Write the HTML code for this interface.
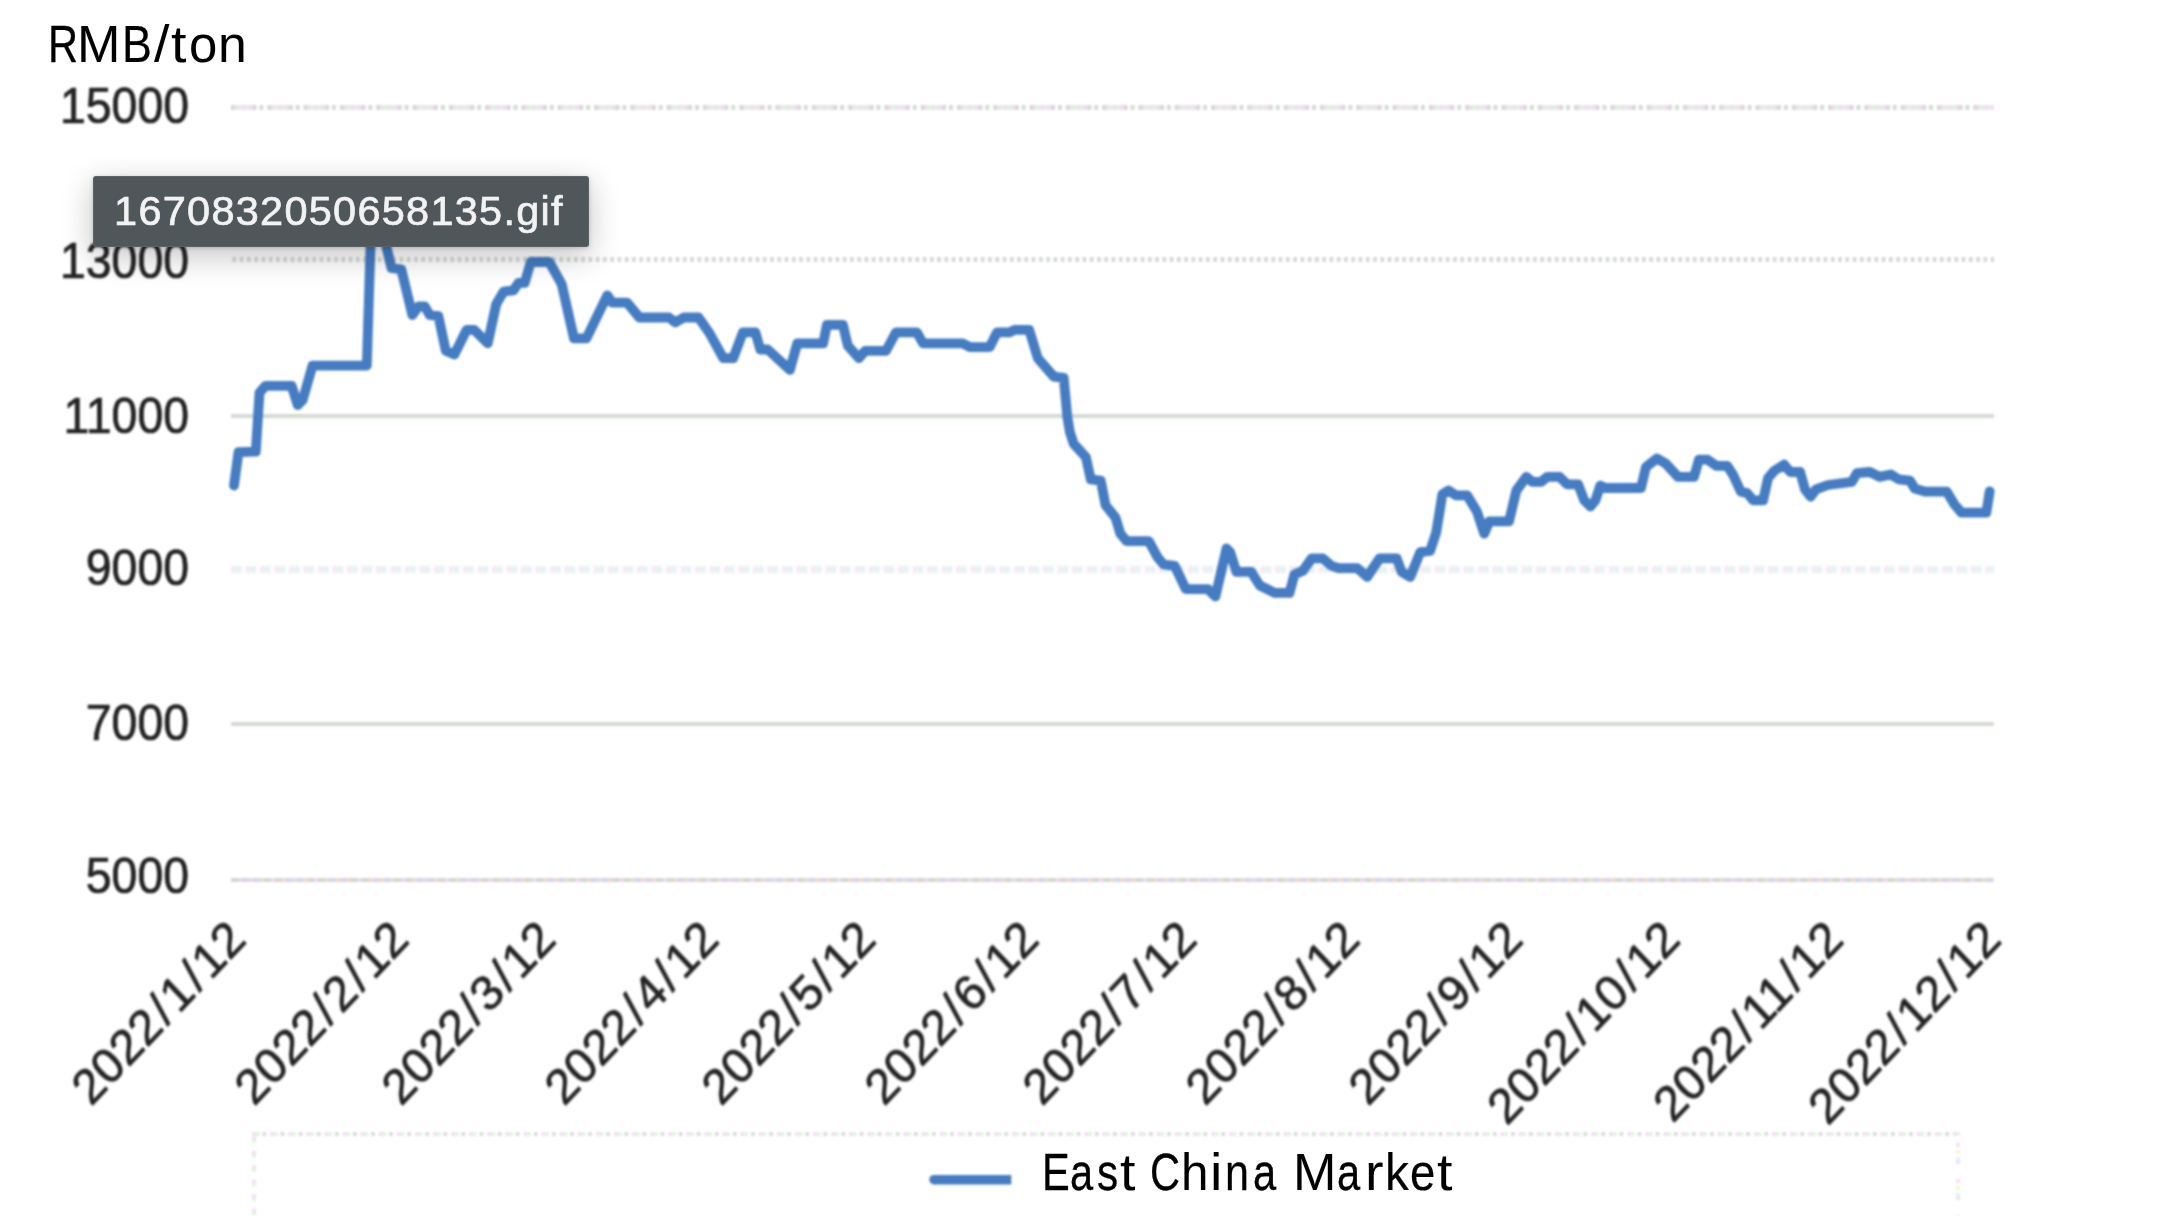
<!DOCTYPE html>
<html><head><meta charset="utf-8"><title>RMB/ton</title>
<style>
html,body{margin:0;padding:0;background:#fff;}
body{width:2160px;height:1216px;position:relative;overflow:hidden;font-family:"Liberation Sans",sans-serif;}
.abs{position:absolute;}
.tl{font-size:52px;line-height:1;color:#000;transform-origin:0 0;white-space:pre;}
.yl{right:1971px;font-size:46.4px;line-height:1;color:#242224;-webkit-text-stroke:0.7px #242224;white-space:nowrap;transform-origin:100% 50%;transform:scale(1,1.06);filter:blur(0.9px);letter-spacing:0px;}
.xl{font-size:47.2px;line-height:1;color:#242224;-webkit-text-stroke:0.7px #242224;white-space:nowrap;transform-origin:100% 0;transform:scale(1,1.055) rotate(-45deg);filter:blur(0.9px);letter-spacing:0px;}
.sl{display:inline-block;width:19px;text-align:center;letter-spacing:0;}
.g{left:230.5px;width:1763.0px;height:4px;filter:blur(0.7px);}
#tip{left:92.8px;top:176.3px;width:496.2px;height:71px;background:#50575a;border-radius:3px;box-shadow:0 9px 30px 2px rgba(0,0,0,0.21),0 1px 4px rgba(0,0,0,0.18),inset 0 0 0 1px rgba(255,255,255,0.07);}
#tiptxt{left:114.1px;top:189.5px;font-size:41.5px;line-height:1;color:#f2f2f2;white-space:nowrap;letter-spacing:1.25px;-webkit-text-stroke:0.7px #f2f2f2;filter:blur(0.6px);}
</style></head><body>

<div class="abs g" style="top:105.3px;height:4.4px;filter:blur(1.2px);background-image:linear-gradient(90deg,#d5d9d5 0 3.63px,#fff 3.63px 7.26px,#d5d9d5 7.26px 10.89px,#fff 10.89px 14.52px,#d5d9d5 14.52px 18.15px,#f5dbf5 18.15px 21.78px,#dbf5db 21.78px 25.41px,#f5dbf5 25.41px 29.04px,#dbf5db 29.04px 32.67px,#f5dbf5 32.67px 36.3px);background-size:36.3px 100%;background-repeat:repeat-x;background-position:21.6px 0;"></div>
<div class="abs g" style="top:257.3px;height:4.4px;filter:blur(1.2px);background-image:linear-gradient(90deg,#d3d9d3 0 3.63px,#fff 3.63px 7.27px);background-size:7.27px 100%;background-repeat:repeat-x;background-position:1.5px 0;"></div>
<div class="abs g" style="top:413.6px;height:4.4px;filter:blur(1px);background:#d3dbd3;"></div>
<div class="abs g" style="top:566px;height:7.4px;filter:blur(1.4px);background-image:linear-gradient(90deg,#f8e6f8 0 3.6px,#e6f8e6 3.6px 7.2px,#e6eefb 7.2px 10.9px,#fff 10.9px 14.5px);background-size:14.5px 100%;background-repeat:repeat-x;background-position:0px 0;"></div>
<div class="abs g" style="top:721.9px;height:4.4px;filter:blur(1px);background:#d3dbd3;"></div>
<div class="abs g" style="top:877.9px;height:4.4px;filter:blur(1.2px);background-image:linear-gradient(90deg,#d0d7d0 0 7.3px,#f0d8cc 7.3px 10.9px,#d4d4f0 10.9px 18.2px,#f0d8cc 18.2px 21.8px,#d4d4f0 21.8px 29px,#f0d8cc 29px 32.7px,#d0d7d0 32.7px 39.9px,#f2d6f2 39.9px 43.6px);background-size:43.6px 100%;background-repeat:repeat-x;background-position:0px 0;"></div>
<div class="abs" style="left:252px;top:1131.8px;width:1708px;height:4.4px;filter:blur(1.1px);background-image:linear-gradient(90deg,#f6def6 0 3.6px,#def6de 3.6px 7.2px,#fff 7.2px 10.9px,#dcdcdc 10.9px 14.5px,#fff 14.5px 18.1px);background-size:18.1px 100%;"></div>
<div class="abs" style="left:251.8px;top:1136px;width:4.4px;height:80px;filter:blur(1.1px);background-image:linear-gradient(180deg,#f6def6 0 3.6px,#def6de 3.6px 7.2px,#fff 7.2px 14.5px);background-size:100% 14.5px;"></div>
<div class="abs" style="left:1955.8px;top:1136px;width:4.4px;height:80px;filter:blur(1.1px);background-image:linear-gradient(180deg,#fff 0 7px,#f8dcf8 7px 10.6px,#fff 10.6px 14px,#f8f4c8 14px 17.6px,#fff 17.6px 21px,#d8f4f8 21px 24.6px,#f4dcf4 24.6px 28.2px,#fff 28.2px 36px);background-size:100% 36px;"></div>
<svg class="abs" style="left:0;top:0;filter:blur(1.2px);" width="2160" height="1216" viewBox="0 0 2160 1216"><path d="M234.0,485.5 L238.5,452.2 L255.8,451.6 L259.5,392.7 L265.6,385.8 L291.6,385.8 L297.7,405.0 L302.7,400.0 L312.5,365.6 L366.8,365.6 L370.5,247.0 L370.5,236.0 L386.5,236.0 L386.5,247.0 L391.5,268.0 L401.3,269.3 L412.4,315.0 L418.6,306.4 L424.8,306.4 L429.7,315.0 L438.4,316.2 L445.8,350.8 L454.4,354.5 L466.7,329.8 L474.1,329.8 L487.7,343.4 L496.3,303.9 L503.7,291.5 L513.6,290.3 L518.5,282.9 L524.7,282.9 L530.8,262.0 L549.3,262.0 L561.7,284.1 L574.0,338.4 L586.4,338.4 L607.3,295.3 L612.3,302.7 L627.1,302.7 L639.4,317.5 L669.0,317.5 L675.2,322.4 L683.8,317.5 L698.6,317.5 L709.7,333.5 L723.3,358.2 L733.2,358.2 L743.0,332.3 L755.4,332.3 L760.3,349.5 L767.7,349.5 L789.9,369.9 L797.3,343.4 L823.2,343.4 L826.9,324.9 L842.9,324.9 L847.9,345.8 L859.0,358.2 L865.1,350.8 L886.1,350.8 L896.0,332.3 L916.9,332.3 L923.1,343.4 L962.6,343.4 L970.0,347.1 L989.7,347.1 L997.1,332.3 L1009.5,332.3 L1014.4,329.8 L1029.2,329.8 L1037.8,358.2 L1053.9,376.7 L1063.7,377.9 L1067.4,417.4 L1069.9,432.2 L1073.6,443.6 L1085.9,457.2 L1090.8,479.4 L1100.7,480.6 L1105.6,505.3 L1115.5,517.6 L1120.4,533.7 L1126.6,541.1 L1148.8,541.1 L1157.5,557.1 L1163.6,564.5 L1174.7,565.8 L1185.8,589.2 L1208.0,589.2 L1215.4,596.6 L1226.5,548.5 L1230.2,552.2 L1236.4,571.9 L1251.2,571.9 L1259.8,585.5 L1274.7,592.9 L1289.5,592.9 L1294.4,574.4 L1303.0,570.7 L1311.7,558.4 L1322.8,558.4 L1331.4,565.8 L1338.8,568.2 L1357.3,568.2 L1367.1,576.9 L1379.5,558.4 L1396.7,558.4 L1401.7,571.9 L1410.3,576.9 L1420.2,552.2 L1430.1,551.0 L1436.2,532.5 L1442.4,494.2 L1448.6,490.5 L1456.0,495.4 L1467.1,495.4 L1476.9,511.5 L1484.3,533.7 L1489.3,521.3 L1509.0,521.3 L1516.4,490.5 L1526.3,476.9 L1532.4,481.9 L1541.1,481.9 L1547.3,476.9 L1559.6,476.9 L1567.0,484.3 L1578.1,484.3 L1584.3,500.4 L1590.4,506.5 L1595.4,500.4 L1600.3,485.6 L1605.2,488.0 L1637.0,488.0 L1641.0,488.0 L1645.9,467.1 L1657.0,458.4 L1665.6,463.4 L1678.0,476.9 L1694.0,476.9 L1699.0,459.7 L1707.6,459.7 L1716.2,465.8 L1727.3,465.8 L1733.5,475.7 L1740.9,491.7 L1747.1,493.0 L1753.2,500.4 L1763.1,500.4 L1768.0,478.2 L1774.2,470.8 L1784.1,464.6 L1790.2,472.0 L1800.1,472.0 L1805.0,489.3 L1810.5,496.7 L1816.1,489.3 L1828.0,485.0 L1851.9,481.9 L1856.9,473.2 L1869.8,472.0 L1879.6,476.9 L1890.8,474.5 L1898.8,479.4 L1909.9,480.6 L1914.8,488.6 L1925.8,491.7 L1946.8,491.7 L1954.2,504.1 L1961.6,512.7 L1986.3,512.7 L1989.7,491.3" fill="none" stroke="#457cc2" stroke-width="9.8" stroke-linejoin="round" stroke-linecap="round"/><path d="M934,1179.7 L1011.3,1179.7" stroke="#457cc2" stroke-width="9.5" fill="none"/><circle cx="934" cy="1179.7" r="4.75" fill="#457cc2"/></svg>
<div class="abs yl" style="top:83.3px;">15000</div>
<div class="abs yl" style="top:237.6px;">13000</div>
<div class="abs yl" style="top:392.8px;">11000</div>
<div class="abs yl" style="top:545.2px;">9000</div>
<div class="abs yl" style="top:699.5px;">7000</div>
<div class="abs yl" style="top:853.0px;">5000</div>
<div class="abs xl" style="right:1940.6px;top:912px;">2022<span class="sl">/</span>1<span class="sl">/</span>12</div>
<div class="abs xl" style="right:1777.7px;top:912px;">2022<span class="sl">/</span>2<span class="sl">/</span>12</div>
<div class="abs xl" style="right:1630.5px;top:912px;">2022<span class="sl">/</span>3<span class="sl">/</span>12</div>
<div class="abs xl" style="right:1467.6px;top:912px;">2022<span class="sl">/</span>4<span class="sl">/</span>12</div>
<div class="abs xl" style="right:1309.9px;top:912px;">2022<span class="sl">/</span>5<span class="sl">/</span>12</div>
<div class="abs xl" style="right:1146.9px;top:912px;">2022<span class="sl">/</span>6<span class="sl">/</span>12</div>
<div class="abs xl" style="right:989.3px;top:912px;">2022<span class="sl">/</span>7<span class="sl">/</span>12</div>
<div class="abs xl" style="right:826.3px;top:912px;">2022<span class="sl">/</span>8<span class="sl">/</span>12</div>
<div class="abs xl" style="right:663.4px;top:912px;">2022<span class="sl">/</span>9<span class="sl">/</span>12</div>
<div class="abs xl" style="right:505.7px;top:912px;">2022<span class="sl">/</span>10<span class="sl">/</span>12</div>
<div class="abs xl" style="right:342.8px;top:912px;">2022<span class="sl">/</span>11<span class="sl">/</span>12</div>
<div class="abs xl" style="right:185.1px;top:912px;">2022<span class="sl">/</span>12<span class="sl">/</span>12</div>
<div id="title"><span class="abs tl" style="left:47.54px;top:17.88px;transform:scaleX(0.8000);-webkit-text-stroke:0.32px #000;">R</span><span class="abs tl" style="left:76.69px;top:17.88px;transform:scaleX(1.0029);">M</span><span class="abs tl" style="left:121.69px;top:17.88px;transform:scaleX(0.8623);-webkit-text-stroke:0.22px #000;">B</span><span class="abs tl" style="left:153.65px;top:17.88px;transform:scaleX(1.0700);">/</span><span class="abs tl" style="left:171.18px;top:17.88px;transform:scaleX(1.0700);">t</span><span class="abs tl" style="left:188.84px;top:17.88px;transform:scaleX(0.9796);">o</span><span class="abs tl" style="left:217.82px;top:17.88px;transform:scaleX(0.9955);">n</span></div>
<div id="leg"><span class="abs tl" style="left:1042.32px;top:1145.98px;transform:scaleX(0.8000);-webkit-text-stroke:0.32px #000;">E</span><span class="abs tl" style="left:1069.51px;top:1145.98px;transform:scaleX(0.8000);-webkit-text-stroke:0.32px #000;">a</span><span class="abs tl" style="left:1097.18px;top:1145.98px;transform:scaleX(0.8142);-webkit-text-stroke:0.30px #000;">s</span><span class="abs tl" style="left:1120.03px;top:1145.98px;transform:scaleX(1.0700);">t</span><span class="abs tl" style="left:1138.00px;top:1145.98px;"> </span><span class="abs tl" style="left:1150.11px;top:1145.98px;transform:scaleX(0.8000);-webkit-text-stroke:0.32px #000;">C</span><span class="abs tl" style="left:1181.18px;top:1145.98px;transform:scaleX(0.9498);">h</span><span class="abs tl" style="left:1210.40px;top:1145.98px;transform:scaleX(1.0700);">i</span><span class="abs tl" style="left:1225.20px;top:1145.98px;transform:scaleX(0.8273);-webkit-text-stroke:0.28px #000;">n</span><span class="abs tl" style="left:1253.06px;top:1145.98px;transform:scaleX(0.8000);-webkit-text-stroke:0.32px #000;">a</span><span class="abs tl" style="left:1280.00px;top:1145.98px;"> </span><span class="abs tl" style="left:1292.99px;top:1145.98px;transform:scaleX(1.0029);">M</span><span class="abs tl" style="left:1337.06px;top:1145.98px;transform:scaleX(0.8000);-webkit-text-stroke:0.32px #000;">a</span><span class="abs tl" style="left:1364.65px;top:1145.98px;transform:scaleX(1.0700);">r</span><span class="abs tl" style="left:1384.68px;top:1145.98px;transform:scaleX(0.9200);-webkit-text-stroke:0.13px #000;">k</span><span class="abs tl" style="left:1410.17px;top:1145.98px;transform:scaleX(0.8770);-webkit-text-stroke:0.20px #000;">e</span><span class="abs tl" style="left:1437.03px;top:1145.98px;transform:scaleX(1.0700);">t</span></div>
<div class="abs" id="tip"></div>
<div class="abs" id="tiptxt">1670832050658135.gif</div>
</body></html>
